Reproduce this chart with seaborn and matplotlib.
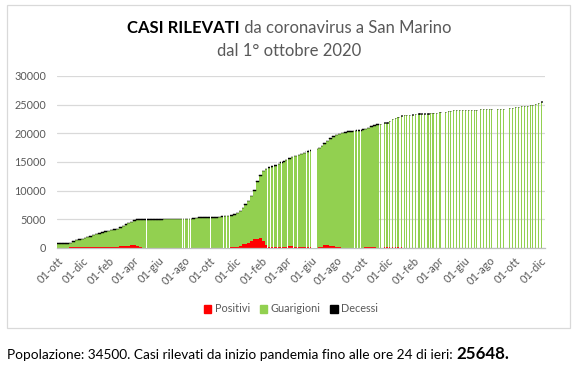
import matplotlib

matplotlib.use("Agg")
import matplotlib.dates as mdates
import matplotlib.pyplot as plt
import numpy as np
import pandas as pd
import seaborn as sns
from matplotlib.patches import Patch, Rectangle

# === DATI SETTIMANALI: 1 ott 2020 - 7 nov 2022 (casi totali, positivi, decessi) ===
INIZIO = "2020-10-01"
totale_sett = [
    800, 800, 805, 810, 900, 1150, 1380, 1500, 1640, 1800,
    1920, 2060, 2250, 2440, 2580, 2740, 2900, 3030, 3140, 3260,
    3400, 3630, 3880, 4130, 4400, 4620, 4820, 4980, 5020, 5030,
    5040, 5045, 5050, 5055, 5060, 5060, 5065, 5070, 5075, 5080,
    5090, 5095, 5100, 5110, 5120, 5130, 5150, 5250, 5330, 5340,
    5350, 5355, 5360, 5370, 5380, 5450, 5570, 5600, 5650, 5750,
    5900, 6150, 6500, 7000, 7600, 8250, 9100, 10100, 11600, 12700,
    13500, 13850, 14100, 14300, 14450, 14700, 14950, 15150, 15400, 15650,
    15900, 16100, 16300, 16450, 16650, 16850, 17050, 17150, 17300, 17500,
    17850, 18300, 18750, 19150, 19450, 19750, 19950, 20100, 20230, 20320,
    20400, 20470, 20500, 20550, 20700, 20830, 21000, 21250, 21450, 21620,
]
positivi_sett = [
    40, 40, 40, 60, 170, 170, 170, 170, 170, 170,
    170, 170, 170, 170, 170, 170, 170, 170, 170, 170,
    170, 380, 380, 380, 380, 450, 520, 350, 170, 60,
    25, 25, 25, 25, 25, 25, 25, 25, 25, 25,
    25, 25, 25, 25, 25, 25, 25, 25, 25, 25,
    25, 25, 25, 25, 25, 25, 25, 25, 25, 100,
    180, 250, 400, 650, 750, 950, 1300, 1650, 1550, 1700,
    1250, 600, 200, 170, 170, 170, 170, 170, 170, 300,
    320, 200, 170, 150, 150, 150, 150, 60, 60, 170,
    200, 500, 550, 400, 300, 170, 100, 50, 50, 50,
    50, 50, 50, 50, 50, 170, 180, 170, 150, 60,
]
decessi_sett = [
    42, 43, 44, 46, 48, 50, 52, 55, 58, 60,
    62, 64, 66, 68, 70, 72, 74, 76, 78, 80,
    82, 84, 86, 88, 89, 90, 90, 90, 90, 90,
    90, 90, 90, 90, 90, 90, 90, 90, 90, 90,
    90, 90, 90, 90, 90, 90, 90, 90, 90, 90,
    90, 90, 90, 90, 90, 90, 90, 90, 90, 90,
    91, 92, 93, 94, 95, 96, 97, 98, 99, 100,
    101, 102, 103, 104, 105, 106, 107, 108, 108, 109,
    109, 110, 110, 110, 111, 111, 111, 112, 112, 112,
    112, 113, 113, 113, 114, 114, 114, 114, 115, 115,
    115, 115, 116, 116, 116, 117, 117, 117, 118, 118,
]

# giorni senza dati nel periodo giornaliero
giorni_mancanti = [
    "2021-05-01", "2021-07-26", "2021-08-01", "2021-08-09", "2021-08-15",
    "2021-10-02", "2021-11-02", "2021-11-10", "2021-11-17", "2022-02-14",
    "2022-02-23", "2022-03-01", "2022-03-10", "2022-03-20", "2022-04-04",
    "2022-04-18", "2022-04-28", "2022-05-19", "2022-05-27", "2022-06-01",
    "2022-09-11", "2022-09-19", "2022-09-26",
]
durata_mancanti = [1] * 19 + [13] + [1] * 3

# === DAL 14 NOV 2022: REPORT CIRCA SETTIMANALI ===
date_report = [
    "2022-11-14", "2022-11-24", "2022-11-29", "2022-12-06", "2022-12-13", "2022-12-20",
    "2022-12-25", "2022-12-27", "2023-01-03", "2023-01-10", "2023-01-15", "2023-01-22",
    "2023-01-30", "2023-02-06", "2023-02-13", "2023-02-15", "2023-02-20", "2023-02-27",
    "2023-03-07", "2023-03-14", "2023-03-18", "2023-03-21", "2023-03-28", "2023-04-04",
    "2023-04-07", "2023-04-19", "2023-04-26", "2023-05-01", "2023-05-08", "2023-05-15",
    "2023-05-22", "2023-05-29", "2023-06-05", "2023-06-12", "2023-06-19", "2023-06-27",
    "2023-07-01", "2023-07-11", "2023-07-18", "2023-07-25", "2023-08-01", "2023-08-06",
    "2023-08-21", "2023-08-28", "2023-09-04", "2023-09-18", "2023-09-25", "2023-10-03",
    "2023-10-10", "2023-10-17", "2023-10-24", "2023-10-31", "2023-11-07", "2023-11-12",
    "2023-11-19", "2023-11-26", "2023-12-04",
]
totale_report = [
    21690, 21980, 21990, 22210, 22560, 22740, 22910, 22920, 23140, 23260,
    23270, 23280, 23320, 23430, 23480, 23490, 23490, 23490, 23500, 23610,
    23620, 23620, 23630, 23780, 23790, 23800, 23950, 23960, 24130, 24130,
    24140, 24140, 24140, 24140, 24140, 24150, 24150, 24300, 24300, 24310,
    24310, 24310, 24320, 24320, 24330, 24480, 24490, 24650, 24660, 24830,
    24840, 24850, 25000, 25010, 25180, 25350, 25648,
]
positivi_report = [60, 170, 170, 170, 170, 170, 170, 170, 170] + [20] * 48
decessi_report = [
    118, 118, 118, 119, 119, 119, 119, 119, 120, 120,
    120, 120, 120, 120, 121, 121, 121, 121, 121, 121,
    122, 122, 122, 122, 122, 122, 122, 122, 123, 123,
    123, 123, 123, 123, 123, 123, 123, 124, 124, 124,
    124, 124, 124, 124, 124, 124, 124, 125, 125, 125,
    125, 125, 125, 125, 126, 126, 126,
]

POPOLAZIONE = 34500
TOT_CASI = 25648

mesi_it = {1: "gen", 2: "feb", 3: "mar", 4: "apr", 5: "mag", 6: "giu",
           7: "lug", 8: "ago", 9: "set", 10: "ott", 11: "nov", 12: "dic"}

ROSSO = "#FF0000"
VERDE = "#92D050"
GRIGIO = "#595959"
GRIGIO_LINEE = "#D9D9D9"

# === STILE ===
sns.set_theme(style="white")
plt.rcParams["font.family"] = ["Lato", "DejaVu Sans"]

fig = plt.figure(figsize=(5.73, 3.79), dpi=100)
ax = fig.add_axes([57 / 573, 1 - 248 / 379, 488 / 573, 172 / 379])

# --- barre settimanali ---
sett = pd.date_range(INIZIO, periods=len(totale_sett), freq="7D")
xs = mdates.date2num(sett)
tot = np.array(totale_sett)
pos = np.array(positivi_sett)
dec = np.array(decessi_sett)
gua = tot - pos - dec

ax.bar(xs, pos, width=7, align="edge", color=ROSSO, lw=0, zorder=2)
ax.bar(xs, gua, bottom=pos, width=7, align="edge", color=VERDE, lw=0, zorder=2)
ax.bar(xs, dec, bottom=pos + gua, width=7, align="edge", color="black",
       edgecolor="black", lw=0.35, zorder=2)

# --- giorni mancanti (nessuna barra) ---
inizio = pd.Timestamp(INIZIO)
for g, durata in zip(giorni_mancanti, durata_mancanti):
    g = pd.Timestamp(g)
    i0 = (g - inizio).days // 7
    i1 = (g + pd.Timedelta(days=durata - 1) - inizio).days // 7
    altezza = tot[i0:i1 + 1].max() + 400
    ax.bar(mdates.date2num(g), altezza, width=max(durata, 2.2), align="edge",
           color="white", lw=0, zorder=3)

# --- report settimanali ---
xr = mdates.date2num(pd.to_datetime(date_report))
tot_r = np.array(totale_report)
pos_r = np.array(positivi_report)
dec_r = np.array(decessi_report)
gua_r = tot_r - pos_r - dec_r

ax.bar(xr, pos_r, width=2.6, color=ROSSO, lw=0, zorder=2)
ax.bar(xr, gua_r, bottom=pos_r, width=2.6, color=VERDE, lw=0, zorder=2)
ax.bar(xr, dec_r, bottom=pos_r + gua_r, width=2.6, color="black",
       edgecolor="black", lw=0.4, zorder=2)

# --- assi ---
ax.set_ylim(0, 30000)
ax.set_yticks(range(0, 30001, 5000))
ax.yaxis.grid(True, color=GRIGIO_LINEE, lw=0.9, zorder=0)
ax.set_axisbelow(True)
ax.set_xlim(mdates.date2num(pd.Timestamp("2020-09-30 12:00")),
            mdates.date2num(pd.Timestamp("2023-12-12")))

tick_date = pd.date_range("2020-10-01", "2023-12-01", freq="2MS")
ax.set_xticks(mdates.date2num(tick_date))
ax.set_xticklabels([f"01-{mesi_it[d.month]}" for d in tick_date],
                   rotation=45, ha="right", rotation_mode="anchor")

sns.despine(ax=ax, left=True, top=True, right=True)
ax.spines["bottom"].set_color("#BFBFBF")
ax.spines["bottom"].set_linewidth(0.9)
ax.tick_params(axis="x", length=3, width=0.9, color="#BFBFBF", labelsize=8,
               labelcolor=GRIGIO, pad=2)
ax.tick_params(axis="y", length=0, labelsize=7.8, labelcolor=GRIGIO, pad=8)

# --- legenda ---
maniglie = [Patch(color=ROSSO), Patch(color=VERDE), Patch(color="black")]
fig.legend(maniglie, ["Positivi", "Guarigioni", "Decessi"], loc="center",
           bbox_to_anchor=(291 / 573, 1 - 309 / 379), ncol=3, frameon=False,
           fontsize=7.8, labelcolor=GRIGIO, handlelength=0.7, handleheight=0.7,
           handletextpad=0.3, columnspacing=0.9)

# --- riquadro del grafico ---
fig.add_artist(Rectangle((7 / 573, 1 - 328 / 379), 563 / 573, 323 / 379,
                         transform=fig.transFigure, fill=False,
                         edgecolor=GRIGIO_LINEE, lw=0.9))


# --- testi misti (grassetto + normale) ---
def testo_misto(y, parti, x_centro=None, x_sinistra=None):
    oggetti = [fig.text(0, y, t, va="baseline", **kw) for t, kw in parti]
    r = fig.canvas.get_renderer()
    larg = [o.get_window_extent(r).width / fig.bbox.width for o in oggetti]
    x = x_sinistra if x_sinistra is not None else x_centro - sum(larg) / 2
    for o, w in zip(oggetti, larg):
        o.set_x(x)
        x += w


fig.canvas.draw()
testo_misto(1 - 33 / 379, [
    ("CASI RILEVATI", dict(fontsize=12, weight="bold", color="black")),
    (" da coronavirus a San Marino", dict(fontsize=12, color=GRIGIO)),
], x_centro=289 / 573)
fig.text(289 / 573, 1 - 56 / 379, "dal 1° ottobre 2020", fontsize=12,
         color=GRIGIO, ha="center", va="baseline")

testo_misto(1 - 359 / 379, [
    (f"Popolazione: {POPOLAZIONE}. Casi rilevati da inizio pandemia fino alle ore 24 di ieri: ",
     dict(fontsize=9.8, color="black")),
    (f"{TOT_CASI}.", dict(fontsize=12.2, weight="bold", color="black")),
], x_sinistra=7 / 573)

fig.savefig("out.png", dpi=100, facecolor="white")
